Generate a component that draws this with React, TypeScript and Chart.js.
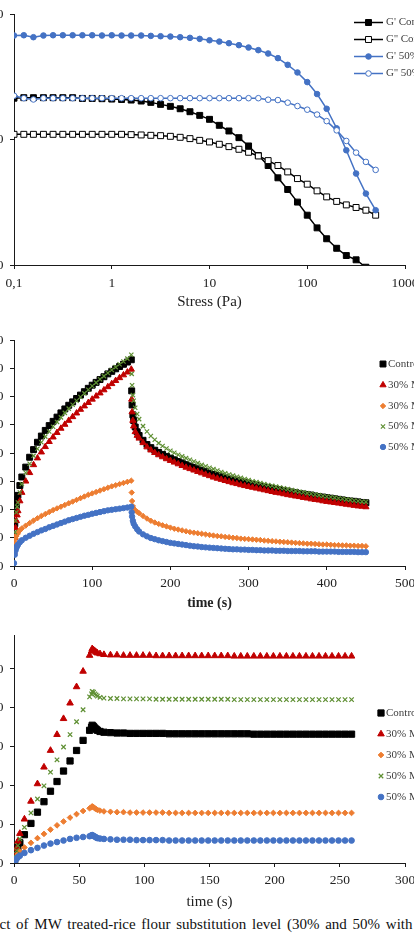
import React, { useEffect, useRef } from 'react';
import { Chart, registerables } from 'chart.js';
import { drawPoint } from 'chart.js/helpers';

Chart.register(...registerables);

const SERIF = '"Liberation Serif", "Times New Roman", serif';
const AXIS = '#1a1a1a';
const TEXT = '#222222';
const LEGEND_TEXT = '#404040';
const BLUE = '#4472C4';
const RED = '#C00000';
const ORANGE = '#ED7D31';
const GREEN = '#5E8F32';

// ---------- Stress sweep (Pa) ----------
const STRESS_PA = [
  0.1, 0.126, 0.158, 0.2, 0.251, 0.316, 0.398, 0.501, 0.631, 0.794,
  1, 1.26, 1.58, 2, 2.51, 3.16, 3.98, 5.01, 6.31, 7.94,
  10, 12.6, 15.8, 20, 25.1, 31.6, 39.8, 50.1, 63.1, 79.4,
  100, 126, 158, 200, 251, 316, 398, 501,
];
const STRESS_TICKS = [0.1, 1, 10, 100, 1000];
const MODULUS_TICKS = [10, 100, 1000];

const G1_CONTROL = [
  215, 217, 217, 217, 217, 217, 217, 214, 214, 213,
  211.5, 210, 207.7, 204, 199, 191.8, 185, 177, 167.6, 156.7,
  145.7, 130.5, 117.6, 104, 89.3, 74.8, 62.3, 49.7, 40.1, 31.8,
  25, 19.8, 16.2, 13.6, 11.9, 11.0, 9.6,
];
const G2_CONTROL = [
  110.6, 110.6, 110.6, 110.6, 110.6, 110.6, 110.6, 110.6, 110.6, 110.6,
  110.6, 110.6, 110, 109.3, 108.6, 107.9, 106.6, 104.7, 102.2, 99,
  96.1, 92.1, 88.2, 84, 79.5, 74.3, 68.2, 62.3, 55.4, 49,
  44.2, 39.1, 35, 32.2, 30.2, 28.8, 27.4, 25,
];
const G1_MW50 = [
  681, 684, 660, 681, 684, 684, 684, 684, 684, 681,
  684, 681, 681, 681, 676, 672, 668, 660, 652, 640,
  624, 609, 591, 570, 546, 520, 489, 449, 397, 345,
  289, 232, 177, 123.5, 82.5, 53.8, 37.2, 27.4,
];
const G2_MW50 = [
  225, 215, 210, 215, 215, 215, 215, 215, 215, 215,
  215, 215, 215, 215, 215, 215, 215, 215, 215, 215,
  215, 215, 215, 215, 215, 215, 209, 207.7, 198, 186,
  174, 159, 141, 119, 97.9, 79, 66.6, 57.5,
];

// ---------- Creep (0-150 s) and recovery (150-450 s) ----------
const CREEP_TIME_S = [
  0, 1, 2, 3, 4, 5, 7.5, 10, 15, 20, 25, 30, 35, 40, 45, 50, 55, 60, 65, 70,
  75, 80, 85, 90, 95, 100, 105, 110, 115, 120, 125, 130, 135, 140, 145, 150,
  150.5, 151, 152, 153, 155, 157.5, 160, 165, 170, 175, 180, 185, 190, 195,
  200, 205, 210, 215, 220, 225, 230, 235, 240, 245, 250, 255, 260, 265, 270, 275,
  280, 285, 290, 295, 300, 305, 310, 315, 320, 325, 330, 335, 340, 345, 350, 355,
  360, 365, 370, 375, 380, 385, 390, 395, 400, 405, 410, 415, 420, 425, 430, 435,
  440, 445, 450,
];
const CREEP_TICKS = [0, 1, 2, 3, 4, 5, 6, 7, 8];

const CREEP_CONTROL = [
  0.6, 1.5, 1.9, 2.15, 2.35, 2.5, 2.85,
  3.15, 3.5, 3.85, 4.12, 4.38, 4.6, 4.8, 4.97, 5.12, 5.27, 5.42, 5.56, 5.69, 5.81,
  5.93, 6.05, 6.17, 6.29, 6.4, 6.5, 6.6, 6.7, 6.8, 6.89, 6.98, 7.06, 7.14, 7.22, 7.3,
  6.2, 5.7, 5.35, 5.15, 4.92, 4.75,
  4.62, 4.45, 4.3, 4.19, 4.1, 4.02, 3.95, 3.88,
  3.82, 3.76, 3.7, 3.65, 3.59, 3.54, 3.49, 3.44,
  3.39, 3.34, 3.29, 3.24, 3.2, 3.16, 3.12, 3.08,
  3.05, 3.02, 2.98, 2.95, 2.92, 2.89, 2.86, 2.83,
  2.8, 2.78, 2.75, 2.72, 2.7, 2.67, 2.65, 2.62,
  2.6, 2.57, 2.55, 2.53, 2.51, 2.48, 2.46, 2.44,
  2.42, 2.4, 2.38, 2.36, 2.34, 2.32, 2.3, 2.29,
  2.27, 2.25, 2.24,
];
const CREEP_MW30_A = [
  0.5, 1.0, 1.35, 1.6, 1.8, 1.95, 2.3,
  2.6, 3.0, 3.3, 3.58, 3.82, 4.03, 4.22, 4.4, 4.56, 4.72, 4.87, 5.01, 5.15, 5.28,
  5.41, 5.54, 5.66, 5.78, 5.9, 6.01, 6.12, 6.23, 6.34, 6.45, 6.56, 6.66, 6.76, 6.86, 6.96,
  5.9, 5.45, 5.15, 4.95, 4.75, 4.62,
  4.52, 4.36, 4.21, 4.1, 4.01, 3.93, 3.86, 3.79,
  3.73, 3.67, 3.61, 3.55, 3.49, 3.44, 3.39, 3.34,
  3.29, 3.24, 3.19, 3.14, 3.1, 3.06, 3.02, 2.98,
  2.94, 2.91, 2.87, 2.84, 2.81, 2.78, 2.75, 2.72,
  2.69, 2.66, 2.63, 2.6, 2.58, 2.55, 2.52, 2.5,
  2.47, 2.45, 2.42, 2.4, 2.37, 2.35, 2.33, 2.3,
  2.28, 2.26, 2.24, 2.22, 2.2, 2.18, 2.16, 2.14,
  2.12, 2.11, 2.09,
];
const CREEP_MW30_B = [
  0.55, 0.85, 0.98, 1.06, 1.12, 1.17, 1.26,
  1.33, 1.43, 1.52, 1.61, 1.69, 1.77, 1.84, 1.91, 1.98, 2.04, 2.1, 2.16, 2.22, 2.28,
  2.34, 2.4, 2.46, 2.52, 2.57, 2.62, 2.67, 2.72, 2.77, 2.82, 2.86, 2.9, 2.94, 2.98, 3.02,
  2.6, 2.3, 2.12, 2.04, 1.97, 1.92,
  1.87, 1.77, 1.68, 1.6, 1.54, 1.49, 1.44, 1.4,
  1.36, 1.32, 1.29, 1.26, 1.23, 1.2, 1.18, 1.16,
  1.14, 1.12, 1.1, 1.08, 1.06, 1.05, 1.03, 1.02,
  1.0, 0.99, 0.97, 0.96, 0.95, 0.94, 0.93, 0.92,
  0.9, 0.89, 0.88, 0.87, 0.86, 0.85, 0.84, 0.83,
  0.82, 0.81, 0.8, 0.79, 0.79, 0.78, 0.77, 0.76,
  0.76, 0.75, 0.74, 0.74, 0.73, 0.73, 0.72, 0.72,
  0.71, 0.71, 0.7,
];
const CREEP_MW50_A = [
  0.55, 1.2, 1.6, 1.9, 2.1, 2.25, 2.6,
  2.9, 3.3, 3.62, 3.9, 4.15, 4.38, 4.58, 4.76, 4.93, 5.1, 5.26, 5.42, 5.57, 5.71,
  5.85, 5.98, 6.11, 6.24, 6.37, 6.49, 6.61, 6.72, 6.83, 6.94, 7.04, 7.14, 7.24, 7.34, 7.48,
  6.8, 6.4, 6.05, 5.85, 5.6, 5.38,
  5.2, 4.95, 4.76, 4.6, 4.47, 4.35, 4.25, 4.16,
  4.08, 4.01, 3.94, 3.88, 3.82, 3.76, 3.7, 3.64,
  3.58, 3.53, 3.48, 3.43, 3.38, 3.33, 3.28, 3.24,
  3.2, 3.16, 3.12, 3.08, 3.04, 3.0, 2.97, 2.94,
  2.9, 2.87, 2.84, 2.81, 2.78, 2.75, 2.72, 2.69,
  2.66, 2.63, 2.61, 2.58, 2.56, 2.53, 2.51, 2.48,
  2.46, 2.44, 2.42, 2.4, 2.38, 2.36, 2.34, 2.32,
  2.3, 2.28, 2.27,
];
const CREEP_MW50_B = [
  0.1, 0.4, 0.55, 0.64, 0.7, 0.75, 0.84,
  0.91, 1.0, 1.07, 1.14, 1.2, 1.26, 1.31, 1.37, 1.42, 1.47, 1.52, 1.57, 1.62, 1.66,
  1.7, 1.74, 1.78, 1.81, 1.85, 1.88, 1.91, 1.94, 1.97, 1.99, 2.01, 2.03, 2.05, 2.07, 2.1,
  1.9, 1.75, 1.6, 1.5, 1.4, 1.3,
  1.22, 1.12, 1.05, 0.99, 0.95, 0.91, 0.88, 0.85,
  0.82, 0.8, 0.78, 0.76, 0.74, 0.72, 0.7, 0.69,
  0.67, 0.66, 0.65, 0.64, 0.63, 0.62, 0.61, 0.6,
  0.59, 0.59, 0.58, 0.58, 0.57, 0.57, 0.56, 0.56,
  0.55, 0.55, 0.55, 0.54, 0.54, 0.54, 0.53, 0.53,
  0.53, 0.53, 0.52, 0.52, 0.52, 0.52, 0.51, 0.51,
  0.51, 0.51, 0.51, 0.5, 0.5, 0.5, 0.5, 0.5,
  0.49, 0.49, 0.49,
];

// ---------- Stress ramp (0-60 s) and hold (60-260 s) ----------
const RAMP_TIME_S = [
  0, 0.5, 1, 2, 3, 4.5, 8, 13, 18, 23, 28, 33, 38, 43, 48, 53, 58,
  59.5, 60, 61, 62, 63, 64, 66,
  69, 74, 79, 84, 89, 94, 99, 104, 109, 114,
  119, 124, 129, 134, 139, 144, 149, 154, 159, 164,
  169, 174, 179, 184, 189, 194, 199, 204, 209, 214,
  219, 224, 229, 234, 239, 244, 249, 254, 259,
];
const RAMP_TICKS = [0, 1, 2, 3, 4, 5];

const RAMP_CONTROL = [
  0.02, 0.08, 0.14, 0.28, 0.4, 0.52, 0.73, 1.02, 1.31, 1.58, 1.85, 2.1, 2.37, 2.63, 2.9, 3.16, 3.42,
  3.5, 3.55, 3.52, 3.48, 3.45, 3.42, 3.39,
  3.37, 3.36, 3.35, 3.35, 3.34, 3.34, 3.34, 3.34, 3.34, 3.34,
  3.33, 3.33, 3.33, 3.33, 3.33, 3.33, 3.33, 3.33, 3.33, 3.33,
  3.33, 3.33, 3.33, 3.32, 3.32, 3.32, 3.32, 3.32, 3.32, 3.32,
  3.32, 3.32, 3.32, 3.32, 3.32, 3.32, 3.32, 3.32, 3.32,
];
const RAMP_MW30_A = [
  0.02, 0.1, 0.18, 0.38, 0.56, 0.76, 1.13, 1.59, 2.04, 2.47, 2.9, 3.31, 3.72, 4.12, 4.54, 4.94, 5.35,
  5.46, 5.52, 5.49, 5.46, 5.43, 5.41, 5.39,
  5.37, 5.36, 5.36, 5.35, 5.35, 5.35, 5.35, 5.35, 5.34, 5.34,
  5.34, 5.34, 5.34, 5.34, 5.34, 5.34, 5.34, 5.34, 5.34, 5.34,
  5.33, 5.33, 5.33, 5.33, 5.33, 5.33, 5.33, 5.33, 5.33, 5.33,
  5.33, 5.33, 5.33, 5.33, 5.33, 5.33, 5.33, 5.33, 5.33,
];
const RAMP_MW30_B = [
  0.02, 0.06, 0.1, 0.17, 0.23, 0.3, 0.4, 0.52, 0.64, 0.75, 0.86, 0.97, 1.07, 1.17, 1.26, 1.34, 1.41,
  1.44, 1.46, 1.44, 1.41, 1.39, 1.37, 1.35,
  1.33, 1.32, 1.31, 1.31, 1.3, 1.3, 1.3, 1.3, 1.3, 1.3,
  1.29, 1.29, 1.29, 1.29, 1.29, 1.29, 1.29, 1.29, 1.29, 1.29,
  1.29, 1.29, 1.29, 1.29, 1.29, 1.29, 1.29, 1.29, 1.29, 1.29,
  1.29, 1.29, 1.29, 1.29, 1.29, 1.29, 1.29, 1.29, 1.29,
];
const RAMP_MW50_A = [
  0.02, 0.1, 0.17, 0.32, 0.45, 0.62, 0.92, 1.29, 1.65, 1.99, 2.34, 2.66, 2.99, 3.31, 3.64, 3.95, 4.28,
  4.36, 4.42, 4.4, 4.36, 4.33, 4.3, 4.27,
  4.25, 4.24, 4.24, 4.23, 4.23, 4.23, 4.23, 4.23, 4.22, 4.22,
  4.22, 4.22, 4.22, 4.22, 4.22, 4.22, 4.22, 4.22, 4.22, 4.22,
  4.21, 4.21, 4.21, 4.21, 4.21, 4.21, 4.21, 4.21, 4.21, 4.21,
  4.21, 4.21, 4.21, 4.21, 4.21, 4.21, 4.21, 4.21, 4.21,
];
const RAMP_MW50_B = [
  0.01, 0.04, 0.07, 0.11, 0.15, 0.19, 0.26, 0.33, 0.39, 0.45, 0.5, 0.54, 0.58, 0.62, 0.65, 0.67, 0.69,
  0.71, 0.72, 0.7, 0.68, 0.66, 0.64, 0.63,
  0.62, 0.61, 0.6, 0.6, 0.6, 0.59, 0.59, 0.59, 0.59, 0.59,
  0.58, 0.58, 0.58, 0.58, 0.58, 0.58, 0.58, 0.58, 0.58, 0.58,
  0.58, 0.58, 0.58, 0.58, 0.58, 0.58, 0.58, 0.58, 0.58, 0.58,
  0.58, 0.58, 0.58, 0.58, 0.58, 0.58, 0.58, 0.58, 0.58,
];

const SAMPLE_LABELS = ['Control', '30% MW (a)', '30% MW (b)', '50% MW (a)', '50% MW (b)'];

// ---------- helpers ----------
const zip = (xs: number[], ys: number[]) => ys.map((y, i) => ({ x: xs[i], y }));
const comma = (v: number, digits: number) => v.toFixed(digits).replace('.', ',');

type LegendCfg = { rows: number[]; marker: number; text: number; line?: [number, number]; size: number };

function sideLegend(cfg: LegendCfg) {
  return {
    id: 'sideLegend',
    afterDraw(chart: any) {
      const ctx = chart.ctx;
      ctx.save();
      chart.data.datasets.forEach((ds: any, i: number) => {
        const y = cfg.rows[i];
        if (cfg.line) {
          ctx.strokeStyle = ds.borderColor;
          ctx.lineWidth = ds.borderWidth;
          ctx.beginPath();
          ctx.moveTo(cfg.line[0], y);
          ctx.lineTo(cfg.line[1], y);
          ctx.stroke();
        }
        ctx.fillStyle = ds.pointBackgroundColor;
        ctx.strokeStyle = ds.pointBorderColor;
        ctx.lineWidth = ds.pointBorderWidth;
        drawPoint(
          ctx,
          { pointStyle: ds.pointStyle, radius: ds.pointRadius, rotation: 0, borderWidth: ds.pointBorderWidth },
          cfg.marker,
          y,
        );
        ctx.fillStyle = LEGEND_TEXT;
        ctx.font = `${cfg.size}px ${SERIF}`;
        ctx.textAlign = 'left';
        ctx.textBaseline = 'middle';
        ctx.fillText(ds.label, cfg.text, y);
      });
      ctx.restore();
    },
  };
}

function xAxis(opts: any) {
  return {
    type: opts.type || 'linear',
    position: 'bottom',
    min: opts.min,
    max: opts.max,
    border: { display: true, color: AXIS, width: 1 },
    grid: { drawOnChartArea: false, drawTicks: true, tickLength: 4, color: AXIS },
    ticks: {
      font: { family: SERIF, size: 13.5 },
      color: TEXT,
      padding: opts.tickPad,
      maxRotation: 0,
      autoSkip: false,
      callback: opts.label,
    },
    title: {
      display: true,
      text: opts.title,
      font: { family: SERIF, size: opts.titleSize, weight: opts.titleWeight || 'normal' },
      color: TEXT,
      padding: 0,
    },
    afterBuildTicks: (s: any) => {
      s.ticks = opts.ticks.map((v: number) => ({ value: v }));
    },
    afterFit: (s: any) => {
      s.height = opts.height;
    },
  };
}

function yAxis(opts: any) {
  return {
    type: opts.type || 'linear',
    position: 'left',
    min: opts.min,
    max: opts.max,
    border: { display: true, color: AXIS, width: 1 },
    grid: { drawOnChartArea: false, drawTicks: true, tickLength: 4, color: AXIS },
    ticks: {
      font: { family: SERIF, size: 13.5 },
      color: TEXT,
      padding: 6.5,
      autoSkip: false,
      callback: opts.label,
    },
    afterBuildTicks: (s: any) => {
      s.ticks = opts.ticks.map((v: number) => ({ value: v }));
    },
    afterFit: (s: any) => {
      s.width = 60;
    },
  };
}

function markerSet(radiusScale: number) {
  return [
    { color: '#000000', pointStyle: 'rect', pointRadius: 4.2 * radiusScale, pointBorderWidth: 1 },
    { color: RED, pointStyle: 'triangle', pointRadius: 3.6 * radiusScale, pointBorderWidth: 1 },
    { color: ORANGE, pointStyle: 'rectRot', pointRadius: 2.7 * radiusScale, pointBorderWidth: 1 },
    { color: GREEN, pointStyle: 'crossRot', pointRadius: 3.0 * radiusScale, pointBorderWidth: 1.2 },
    { color: BLUE, pointStyle: 'circle', pointRadius: 2.7 * radiusScale, pointBorderWidth: 1 },
  ];
}

function sampleDatasets(times: number[], series: number[][], radiusScale: number) {
  const marks = markerSet(radiusScale);
  return series.map((ys, i) => ({
    label: SAMPLE_LABELS[i],
    data: zip(times, ys),
    showLine: false,
    borderColor: marks[i].color,
    backgroundColor: marks[i].color,
    borderWidth: 1,
    pointStyle: marks[i].pointStyle,
    pointRadius: marks[i].pointRadius,
    pointBorderWidth: marks[i].pointBorderWidth,
    pointBackgroundColor: marks[i].color,
    pointBorderColor: marks[i].color,
    order: series.length - i,
  }));
}

function baseOptions(padTop: number, scales: any) {
  return {
    responsive: false,
    animation: false,
    devicePixelRatio: 1,
    layout: { padding: { left: 0, right: 49, top: padTop, bottom: 0 } },
    plugins: { legend: { display: false }, tooltip: { enabled: false } },
    events: [],
    scales,
  };
}

function sweepConfig() {
  const line = (label: string, ys: number[], color: string, fill: string, style: string, r: number, order: number) => ({
    label,
    data: zip(STRESS_PA, ys),
    showLine: true,
    tension: 0,
    borderColor: color,
    backgroundColor: color,
    borderWidth: 1.5,
    pointStyle: style,
    pointRadius: r,
    pointBorderWidth: 1,
    pointBackgroundColor: fill,
    pointBorderColor: color,
    order,
  });
  return {
    type: 'scatter',
    data: {
      datasets: [
        line("G' Control", G1_CONTROL, '#000000', '#000000', 'rect', 4.2, 4),
        line("G'' Control", G2_CONTROL, '#000000', '#ffffff', 'rect', 4.2, 3),
        line("G' 50% MW", G1_MW50, BLUE, BLUE, 'circle', 2.8, 2),
        line("G'' 50% MW", G2_MW50, BLUE, '#ffffff', 'circle', 2.8, 1),
      ],
    },
    options: baseOptions(14, {
      x: xAxis({
        type: 'logarithmic', min: 0.1, max: 1000, ticks: STRESS_TICKS, tickPad: 6, height: 46,
        title: 'Stress (Pa)', titleSize: 15,
        label: (v: number) => (v < 1 ? comma(v, 1) : String(v)),
      }),
      y: yAxis({ type: 'logarithmic', min: 10, max: 1000, ticks: MODULUS_TICKS, label: (v: number) => String(v) }),
    }),
    plugins: [sideLegend({ rows: [22.5, 39.5, 56.5, 73.5], marker: 414.5, text: 432, line: [400, 429], size: 11 })],
  };
}

function creepConfig() {
  return {
    type: 'scatter',
    data: {
      datasets: sampleDatasets(
        CREEP_TIME_S,
        [CREEP_CONTROL, CREEP_MW30_A, CREEP_MW30_B, CREEP_MW50_A, CREEP_MW50_B],
        1,
      ),
    },
    options: baseOptions(25, {
      x: xAxis({
        min: 0, max: 500, ticks: [0, 100, 200, 300, 400, 500], tickPad: 5, height: 46,
        title: 'time (s)', titleSize: 14, titleWeight: 'bold',
        label: (v: number) => String(v),
      }),
      y: yAxis({ min: 0, max: 8, ticks: CREEP_TICKS, label: (v: number) => comma(v, 1) }),
    }),
    plugins: [sideLegend({ rows: [49, 70, 91, 111.5, 132], marker: 429, text: 434, size: 11 })],
  };
}

function rampConfig() {
  return {
    type: 'scatter',
    data: {
      datasets: sampleDatasets(
        RAMP_TIME_S,
        [RAMP_CONTROL, RAMP_MW30_A, RAMP_MW30_B, RAMP_MW50_A, RAMP_MW50_B],
        1.05,
      ),
    },
    options: baseOptions(20, {
      x: xAxis({
        min: 0, max: 300, ticks: [0, 50, 100, 150, 200, 250, 300], tickPad: 5, height: 48,
        title: 'time (s)', titleSize: 15,
        label: (v: number) => String(v),
      }),
      y: yAxis({ min: 0, max: 5.876, ticks: RAMP_TICKS, label: (v: number) => comma(v, 1) }),
    }),
    plugins: [sideLegend({ rows: [98, 119, 140, 161, 182], marker: 427, text: 432, size: 11 })],
  };
}

function ChartCanvas({ make, top, height }: { make: () => any; top: number; height: number }) {
  const ref = useRef<HTMLCanvasElement>(null);
  useEffect(() => {
    const chart = new Chart(ref.current as HTMLCanvasElement, make());
    return () => chart.destroy();
  }, [make]);
  return (
    <canvas
      ref={ref}
      width={500}
      height={height}
      style={{ position: 'absolute', left: -46, top, width: 500, height, display: 'block' }}
    />
  );
}

export default function App() {
  return (
    <div
      style={{
        position: 'fixed',
        left: 0,
        top: 0,
        width: 414,
        height: 933,
        overflow: 'hidden',
        background: '#ffffff',
      }}
    >
      <ChartCanvas make={sweepConfig} top={0} height={311} />
      <ChartCanvas make={creepConfig} top={315} height={297} />
      <ChartCanvas make={rampConfig} top={615} height={296} />
      <div
        style={{
          position: 'absolute',
          left: -26,
          top: 915,
          whiteSpace: 'nowrap',
          fontFamily: SERIF,
          fontSize: 15,
          lineHeight: '18px',
          wordSpacing: 2,
          color: '#111',
        }}
      >
        Effect of MW treated-rice flour substitution level (30% and 50% with rice flour
      </div>
    </div>
  );
}
